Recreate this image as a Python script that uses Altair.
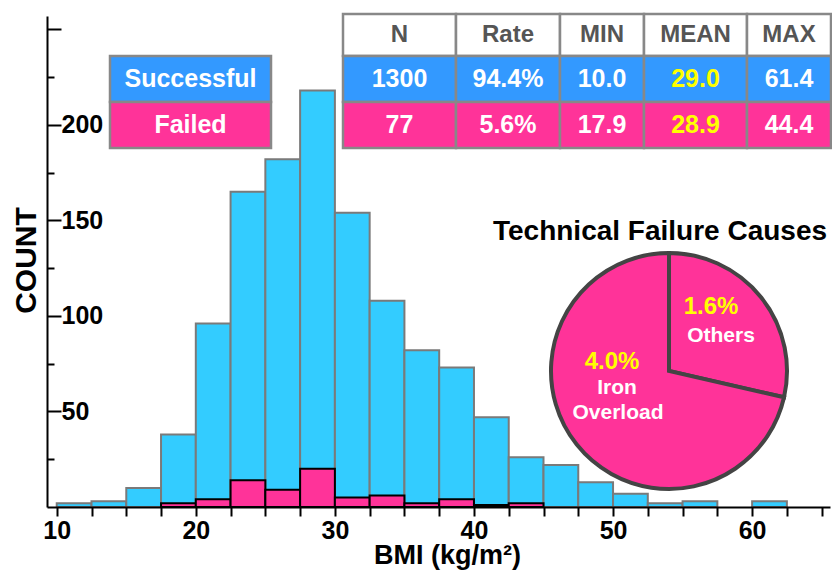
import altair as alt
import pandas as pd

# ---------------- data ----------------
# BMI histogram, bins of width 2.5 kg/m^2
BIN_START = [10.0, 12.5, 15.0, 17.5, 20.0, 22.5, 25.0, 27.5, 30.0, 32.5, 35.0,
             37.5, 40.0, 42.5, 45.0, 47.5, 50.0, 52.5, 55.0, 57.5, 60.0]
BIN_WIDTH = 2.5
SUCCESSFUL_COUNT = [2, 3, 10, 38, 96, 165, 182, 218, 154, 108, 82,
                    73, 47, 26, 22, 13, 7, 2, 3, 0, 3]
FAILED_COUNT = [0, 0, 0, 2, 4, 14, 9, 20, 5, 6, 2,
                4, 1, 2, 0, 0, 0, 0, 0, 0, 0]

X_TICKS = [10, 12.5, 15, 17.5, 20, 22.5, 25, 27.5, 30, 32.5, 35, 37.5,
           40, 42.5, 45, 47.5, 50, 52.5, 55, 57.5, 60, 62.5, 65]
Y_TICKS = [25, 50, 75, 100, 125, 150, 175, 200, 225, 250]

# summary table
GROUPS = ["Successful", "Failed"]
TABLE_HEADERS = ["N", "Rate", "MIN", "MEAN", "MAX"]
N_CASES = ["1300", "77"]
RATE = ["94.4%", "5.6%"]
BMI_MIN = [10.0, 17.9]
BMI_MEAN = [29.0, 28.9]
BMI_MAX = [61.4, 44.4]

# technical failure causes (% of all cases)
CAUSES = ["Others", "Iron Overload"]
CAUSE_PCT = [1.6, 4.0]

# ---------------- style / layout ----------------
FONT = "Liberation Sans"
BAR_BLUE = "#33CCFF"
ROW_BLUE = "#3399FF"
PINK = "#FF3399"
YELLOW = "#FFFF00"
GRID_GRAY = "#888888"
HEADER_GRAY = "#555555"

PAD_LEFT, PAD_TOP = 47, 16
PLOT_W, PLOT_H = 783, 491

TABLE_LEFT = 296
TABLE_COL_W = [113, 104, 84, 103, 84]
TABLE_TOP = -2
TABLE_ROW_H = [42, 46, 46]
LEGEND_LEFT, LEGEND_W = 63, 161

PIE_CX, PIE_CY, PIE_R = 622, 355, 118

# ---------------- histogram ----------------
rows = []
for counts, fill, stroke in [(SUCCESSFUL_COUNT, BAR_BLUE, "#7a7a7a"),
                             (FAILED_COUNT, PINK, "#000000")]:
    for lo, c in zip(BIN_START, counts):
        if c > 0:
            rows.append(dict(lo=lo, hi=lo + BIN_WIDTH, count=c, fill=fill, stroke=stroke))
hist_df = pd.DataFrame(rows)

x_axis = alt.Axis(
    values=X_TICKS, orient="bottom", grid=False, zindex=1,
    domainColor="black", domainWidth=2, tickColor="black", tickWidth=2, tickSize=9,
    labelExpr="datum.value % 10 === 0 ? datum.label : ''",
    labelFont=FONT, labelFontSize=25, labelFontWeight="bold", labelColor="black",
    labelPadding=2, labelOverlap=False, labelFlush=False,
    title="BMI (kg/m²)", titleFont=FONT, titleFontSize=27, titleFontWeight="bold",
    titleColor="black", titleX=400, titleY=56, titleAlign="center",
    titleBaseline="alphabetic",
)
y_axis = alt.Axis(
    values=Y_TICKS, orient="right", offset=-PLOT_W, grid=False, zindex=1,
    domainColor="black", domainWidth=2, tickColor="black", tickWidth=2,
    tickSize={"condition": {"test": "datum.value % 50 === 0", "value": 14}, "value": 7},
    labelExpr="datum.value % 50 === 0 && datum.value < 250 ? datum.label : ''",
    labelFont=FONT, labelFontSize=25, labelFontWeight="bold", labelColor="black",
    labelAlign="left", labelBaseline="middle", labelPadding=0,
    labelOverlap=False, labelFlush=False,
    title="COUNT", titleFont=FONT, titleFontSize=30, titleFontWeight="bold",
    titleColor="black", titleAngle=270, titleX=-21, titleY=244,
    titleAlign="center", titleBaseline="middle",
)

hist = alt.Chart(hist_df).mark_rect(strokeWidth=2).encode(
    x=alt.X("lo:Q", scale=alt.Scale(domain=[9.3, 65.6], nice=False, zero=False), axis=x_axis),
    x2="hi:Q",
    y=alt.Y("count:Q", scale=alt.Scale(domain=[0, 257], nice=False), axis=y_axis),
    y2=alt.datum(0),
    fill=alt.Fill("fill:N", scale=None),
    stroke=alt.Stroke("stroke:N", scale=None),
)

# ---------------- table + legend (pixel layout scale) ----------------
PX = alt.Scale(domain=[0, PLOT_W], range=[0, PLOT_W], nice=False, zero=False)
PY = alt.Scale(domain=[0, PLOT_H], range=[0, PLOT_H], nice=False, zero=False)

col_edges = [TABLE_LEFT]
for w in TABLE_COL_W:
    col_edges.append(col_edges[-1] + w)
row_edges = [TABLE_TOP]
for h in TABLE_ROW_H:
    row_edges.append(row_edges[-1] + h)

row_fill = ["#FFFFFF", ROW_BLUE, PINK]
cells, header_txt, body_txt, legend_txt = [], [], [], []
for r in range(3):
    for c in range(5):
        cells.append(dict(x0=col_edges[c], x1=col_edges[c + 1],
                          y0=row_edges[r], y1=row_edges[r + 1], fill=row_fill[r]))
for c, h in enumerate(TABLE_HEADERS):
    header_txt.append(dict(x=(col_edges[c] + col_edges[c + 1]) / 2,
                           y=(row_edges[0] + row_edges[1]) / 2, text=h))
for g in range(2):
    values = [N_CASES[g], RATE[g], f"{BMI_MIN[g]:.1f}", f"{BMI_MEAN[g]:.1f}", f"{BMI_MAX[g]:.1f}"]
    for c, v in enumerate(values):
        body_txt.append(dict(x=(col_edges[c] + col_edges[c + 1]) / 2,
                             y=(row_edges[g + 1] + row_edges[g + 2]) / 2,
                             text=v, color=YELLOW if c == 3 else "#FFFFFF"))
    cells.append(dict(x0=LEGEND_LEFT, x1=LEGEND_LEFT + LEGEND_W,
                      y0=row_edges[g + 1], y1=row_edges[g + 2], fill=row_fill[g + 1]))
    legend_txt.append(dict(x=LEGEND_LEFT + LEGEND_W / 2,
                           y=(row_edges[g + 1] + row_edges[g + 2]) / 2, text=GROUPS[g]))

table_cells = alt.Chart(pd.DataFrame(cells)).mark_rect(
    stroke=GRID_GRAY, strokeWidth=2.5
).encode(
    x=alt.X("x0:Q", scale=PX, axis=None), x2="x1:Q",
    y=alt.Y("y0:Q", scale=PY, axis=None), y2="y1:Q",
    fill=alt.Fill("fill:N", scale=None),
)


def text_layer(records, size, color=None, **kw):
    enc = dict(
        x=alt.X("x:Q", scale=PX, axis=None),
        y=alt.Y("y:Q", scale=PY, axis=None),
        text="text:N",
    )
    if color is None:
        enc["color"] = alt.Color("color:N", scale=None)
    mark = dict(font=FONT, fontSize=size, fontWeight="bold", align="center",
                baseline="middle")
    if color is not None:
        mark["color"] = color
    mark.update(kw)
    return alt.Chart(pd.DataFrame(records)).mark_text(**mark).encode(**enc)


header_layer = text_layer(header_txt, 24, HEADER_GRAY)
body_layer = text_layer(body_txt, 25)
legend_layer = text_layer(legend_txt, 25, "#FFFFFF")

# ---------------- pie of failure causes ----------------
pie_df = pd.DataFrame({"cause": CAUSES, "pct": CAUSE_PCT, "order": [0, 1]})
pie = alt.Chart(pie_df).mark_arc(
    radius=PIE_R, stroke="#444444", strokeWidth=4, fill=PINK
).encode(
    theta=alt.Theta("pct:Q", stack=True),
    order=alt.Order("order:Q"),
    x=alt.value(PIE_CX), y=alt.value(PIE_CY),
)

pct_txt = [
    dict(x=PIE_CX + 42, y=PIE_CY - 64, text=f"{CAUSE_PCT[0]:.1f}%"),
    dict(x=PIE_CX - 57, y=PIE_CY - 9, text=f"{CAUSE_PCT[1]:.1f}%"),
]
name_txt = [
    dict(x=PIE_CX + 52, y=PIE_CY - 35, text=CAUSES[0]),
    dict(x=PIE_CX - 52, y=PIE_CY + 17, text=CAUSES[1].split(" ")[0]),
    dict(x=PIE_CX - 51, y=PIE_CY + 42, text=CAUSES[1].split(" ")[1]),
]
pie_pct = text_layer(pct_txt, 24, YELLOW)
pie_names = text_layer(name_txt, 21, "#FFFFFF")
pie_title = text_layer([dict(x=613, y=224, text="Technical Failure Causes")],
                       28, "black", baseline="alphabetic")

chart = alt.layer(
    hist, table_cells, header_layer, body_layer, legend_layer,
    pie, pie_pct, pie_names, pie_title,
).resolve_scale(
    x="independent", y="independent"
).properties(
    width=PLOT_W, height=PLOT_H,
    padding={"left": PAD_LEFT, "top": PAD_TOP, "right": 2, "bottom": 572 - PAD_TOP - PLOT_H},
    autosize=alt.AutoSizeParams(type="none"),
    background="white",
).configure_view(stroke=None)

chart.save("out.html", embed_options={"renderer": "svg", "actions": False})
